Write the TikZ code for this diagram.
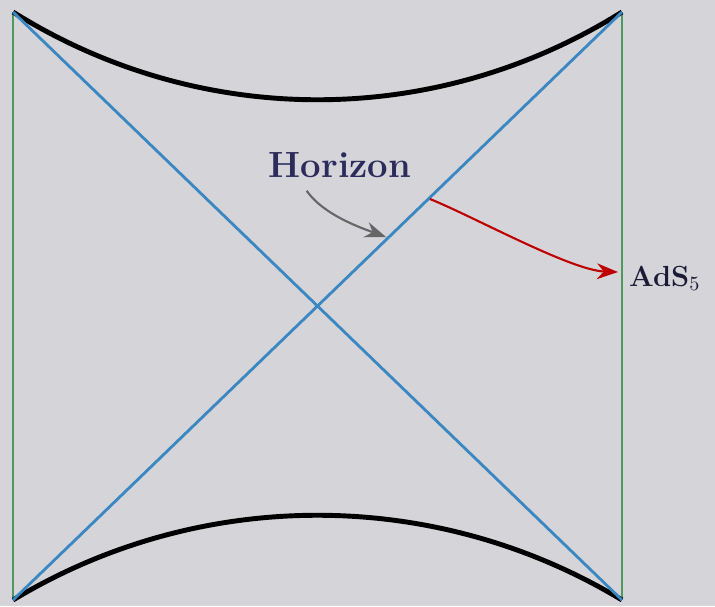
\documentclass[tikz,border=0pt]{standalone}
\usepackage{amsmath, amssymb}
\usetikzlibrary{arrows.meta, positioning}
\definecolor{bg}{HTML}{D5D5D9}
\definecolor{horblue}{HTML}{3A87C2}
\definecolor{bdygreen}{HTML}{4E9A5E}
\definecolor{labelblue}{HTML}{2C2C5C}

\begin{document}
\begin{tikzpicture}[x=0.02cm, y=-0.02cm]
  \fill[bg] (0,0) rectangle (715,606);
  \useasboundingbox (0,0) rectangle (715,606);
  \coordinate (tl) at (13,12);
  \coordinate (tr) at (622,12);
  \coordinate (bl) at (13,600);
  \coordinate (br) at (622,600);
  \draw[bdygreen, line width=1pt] (tl) -- (bl);
  \draw[bdygreen, line width=1pt] (tr) -- (br);
  \draw[black, line width=2.8pt] (tl) .. controls (200,129) and (435,129) .. (tr);
  \draw[black, line width=2.8pt] (bl) .. controls (200,487) and (435,487) .. (br);
  \draw[horblue, line width=1.6pt] (tl) -- (br);
  \draw[horblue, line width=1.6pt] (bl) -- (tr);
  \node[labelblue, font=\huge\bfseries] (hor) at (340,165) {Horizon};
  \node[anchor=west, labelblue!60!black, font=\Large\bfseries, scale=1.15] (ads) at (622,278) {AdS$_5$};
  \coordinate (hortip) at (386,237);
  \coordinate (redstart) at (430,199);
  \coordinate (redtip) at (618,272);
  \draw[black!60, line width=1.2pt, -{Stealth[length=12pt, width=9pt]}]
    (hor.south west) ++(44,7) to[out=-55, in=160, looseness=0.8] (hortip);
  \draw[red!75!black, line width=1.2pt, -{Stealth[length=12pt, width=9pt]}]
    (redstart) to[out=-22, in=178, looseness=0.6] (redtip);
\end{tikzpicture}
\end{document}
